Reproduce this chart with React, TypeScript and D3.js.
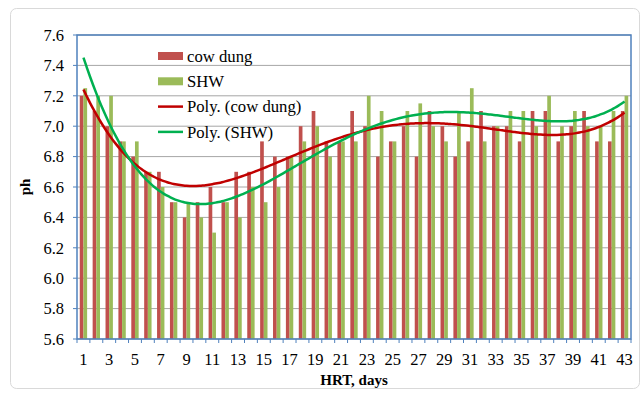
import React from "react";
import * as d3 from "d3";

const days = d3.range(1, 44);
const cowDung = [7.2, 7.1, 7.0, 6.9, 6.8, 6.7, 6.7, 6.5, 6.4, 6.5, 6.6, 6.5, 6.7, 6.7, 6.9, 6.8, 6.8, 7.0, 7.1, 6.9, 6.9, 7.1, 7.0, 6.8, 6.9, 7.0, 6.8, 7.1, 7.0, 6.8, 6.9, 7.1, 7.0, 7.0, 6.9, 7.1, 7.1, 6.9, 7.0, 7.1, 6.9, 6.9, 7.1];
const shw = [7.25, 7.2, 7.2, 6.9, 6.9, 6.7, 6.6, 6.5, 6.5, 6.4, 6.3, 6.5, 6.4, 6.6, 6.5, 6.6, 6.8, 6.9, 7.0, 6.8, 6.9, 6.9, 7.2, 7.1, 6.9, 7.1, 7.15, 7.0, 6.9, 7.1, 7.25, 6.9, 7.0, 7.1, 7.1, 7.0, 7.2, 7.0, 7.1, 7.0, 7.0, 7.1, 7.2];
const yTicks = [5.6, 5.8, 6.0, 6.2, 6.4, 6.6, 6.8, 7.0, 7.2, 7.4, 7.6];
const legendItems = ["cow dung", "SHW", "Poly. (cow dung)", "Poly. (SHW)"];

// least squares polynomial, like excel's "Poly." trendline
function polyFit(xs: number[], ys: number[], order: number) {
  const mid = (xs[0] + xs[xs.length - 1]) / 2;
  const half = (xs[xs.length - 1] - xs[0]) / 2;
  const n = order + 1;
  const A: number[][] = [];
  for (let i = 0; i < n; i++) A.push(new Array(n + 1).fill(0));
  xs.forEach((x, k) => {
    const t = (x - mid) / half;
    for (let i = 0; i < n; i++) {
      for (let j = 0; j < n; j++) A[i][j] += Math.pow(t, i + j);
      A[i][n] += ys[k] * Math.pow(t, i);
    }
  });
  for (let c = 0; c < n; c++) {
    let p = c;
    for (let r = c + 1; r < n; r++) if (Math.abs(A[r][c]) > Math.abs(A[p][c])) p = r;
    [A[c], A[p]] = [A[p], A[c]];
    for (let r = 0; r < n; r++) {
      if (r === c) continue;
      const f = A[r][c] / A[c][c];
      for (let j = c; j <= n; j++) A[r][j] -= f * A[c][j];
    }
  }
  const coef = A.map((row, i) => row[n] / row[i]);
  return (x: number) => {
    const t = (x - mid) / half;
    return coef.reduce((s, c, i) => s + c * Math.pow(t, i), 0);
  };
}

const W = 644;
const H = 393;
const left = 77;
const right = 631;
const top = 35;
const bottom = 339;

const App = () => {
  const x = d3.scaleBand<number>().domain(days).range([left, right]).paddingInner(0).paddingOuter(0);
  const y = d3.scaleLinear().domain([5.6, 7.6]).range([bottom, top]);
  const bw = x.bandwidth() / 3.5;

  const fitCow = polyFit(days, cowDung, 4);
  const fitShw = polyFit(days, shw, 4);
  const xc = (d: number) => x(d)! + x.bandwidth() / 2;
  const samples = d3.range(1, 43.01, 0.25);
  const line = (f: (v: number) => number) =>
    d3.line<number>().x((d) => x(1)! + x.bandwidth() / 2 + (d - 1) * x.step()).y((d) => y(f(d))).curve(d3.curveBasis)(samples) || "";

  const font = "'Liberation Serif', 'Times New Roman', serif";

  return (
    <svg width={W} height={H} style={{ position: "absolute", left: 0, top: 0 }} fontFamily={font}>
      <rect x={0} y={0} width={W} height={H} fill="#fff" />
      <rect x={10.5} y={8.5} width={629} height={380} rx={6} fill="#fff" stroke="#d9d9d9" />
      {yTicks.map((t) => (
        <g key={t}>
          <line x1={left} x2={right} y1={y(t)} y2={y(t)} stroke="#a6a6a6" strokeWidth={1} />
          <line x1={left - 4} x2={left} y1={y(t)} y2={y(t)} stroke="#4f81bd" />
          <text x={64} y={y(t)} dy="0.35em" textAnchor="end" fontSize={16.5}>
            {t.toFixed(1)}
          </text>
        </g>
      ))}
      {days.map((d, i) => (
        <g key={d}>
          <rect x={x(d)! + bw * 0.75} y={y(cowDung[i])} width={bw} height={bottom - y(cowDung[i])} fill="#c0504d" />
          <rect x={x(d)! + bw * 1.75} y={y(shw[i])} width={bw} height={bottom - y(shw[i])} fill="#9bbb59" />
        </g>
      ))}
      <path d={line(fitCow)} fill="none" stroke="#c00000" strokeWidth={2.5} />
      <path d={line(fitShw)} fill="none" stroke="#00b050" strokeWidth={2.5} />
      <rect x={left} y={top} width={right - left} height={bottom - top} fill="none" stroke="#4f81bd" strokeWidth={1.5} />
      {days.concat([44]).map((d) => {
        const px = left + (d - 1) * x.step();
        return <line key={d} x1={px} x2={px} y1={bottom} y2={bottom + 4} stroke="#4f81bd" />;
      })}
      {days
        .filter((d) => d % 2 === 1)
        .map((d) => (
          <text key={d} x={xc(d)} y={359} dy="0.35em" textAnchor="middle" fontSize={16.5}>
            {d}
          </text>
        ))}
      <text x={354} y={380} dy="0.35em" textAnchor="middle" fontSize={15} fontWeight="bold">
        HRT, days
      </text>
      <text transform="translate(25,187) rotate(-90)" textAnchor="middle" dy="0.35em" fontSize={15} fontWeight="bold">
        ph
      </text>
      {legendItems.map((name, i) => {
        const ly = 56 + i * 25.3;
        return (
          <g key={name}>
            {i < 2 ? (
              <rect x={158} y={ly - 4} width={25} height={8} fill={i === 0 ? "#c0504d" : "#9bbb59"} />
            ) : (
              <line x1={158} x2={183} y1={ly} y2={ly} stroke={i === 2 ? "#c00000" : "#00b050"} strokeWidth={2.5} />
            )}
            <text x={187} y={ly} dy="0.35em" fontSize={16.7}>
              {name}
            </text>
          </g>
        );
      })}
    </svg>
  );
};

export default App;
